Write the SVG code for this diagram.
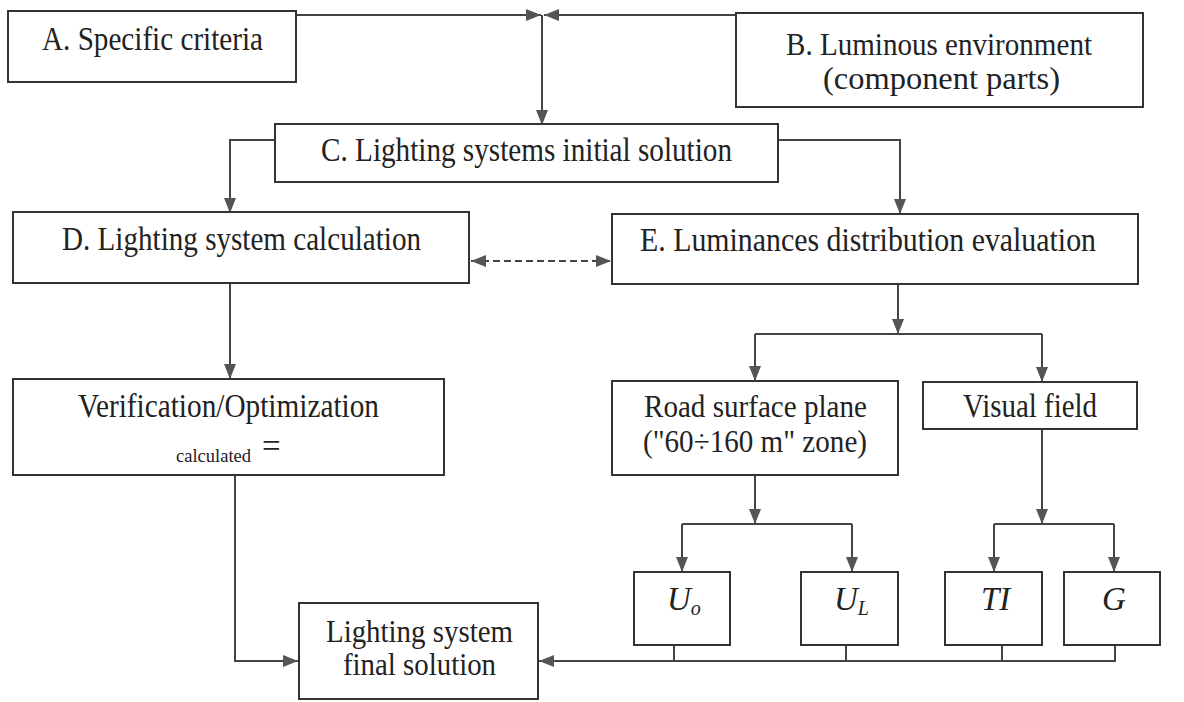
<svg xmlns="http://www.w3.org/2000/svg" width="1184" height="702" viewBox="0 0 1184 702">
<defs>
<style>
.box{fill:none;stroke:#333;stroke-width:2}
.ln{fill:none;stroke:#444;stroke-width:2}
.t{font-family:"Liberation Serif","Times New Roman",serif;font-size:33px;fill:#222}
.t2{font-family:"Liberation Serif","Times New Roman",serif;font-size:31px;fill:#222}
.i{font-family:"Liberation Serif","Times New Roman",serif;font-size:33px;font-style:italic;fill:#222}
.s{font-family:"Liberation Serif","Times New Roman",serif;font-size:18px;fill:#222}
</style>
<marker id="ah" markerUnits="userSpaceOnUse" markerWidth="15" markerHeight="12" refX="15" refY="6" orient="auto-start-reverse">
<path d="M0,0 L15,6 L0,12 z" fill="#555"/>
</marker>
</defs>
<rect width="1184" height="702" fill="#fff"/>
<g id="connectors">
<polyline class="ln" points="297,15 541,15" marker-end="url(#ah)"/>
<polyline class="ln" points="736,15 544,15" marker-end="url(#ah)"/>
<polyline class="ln" points="542,15 542,125" marker-end="url(#ah)"/>
<polyline class="ln" points="275,140 230,140 230,213" marker-end="url(#ah)"/>
<polyline class="ln" points="778,140 900,140 900,214" marker-end="url(#ah)"/>
<line class="ln" x1="471" y1="261" x2="611" y2="261" stroke-dasharray="7,4" marker-start="url(#ah)" marker-end="url(#ah)"/>
<polyline class="ln" points="230,284 230,379" marker-end="url(#ah)"/>
<polyline class="ln" points="898,284 898,334" marker-end="url(#ah)"/>
<polyline class="ln" points="755,334 1042,334"/>
<polyline class="ln" points="755,334 755,381" marker-end="url(#ah)"/>
<polyline class="ln" points="1042,334 1042,382" marker-end="url(#ah)"/>
<polyline class="ln" points="755,475 755,524" marker-end="url(#ah)"/>
<polyline class="ln" points="682,524 852,524"/>
<polyline class="ln" points="682,524 682,572" marker-end="url(#ah)"/>
<polyline class="ln" points="852,524 852,572" marker-end="url(#ah)"/>
<polyline class="ln" points="1042,429 1042,524" marker-end="url(#ah)"/>
<polyline class="ln" points="994,524 1114,524"/>
<polyline class="ln" points="994,524 994,572" marker-end="url(#ah)"/>
<polyline class="ln" points="1114,524 1114,572" marker-end="url(#ah)"/>
<polyline class="ln" points="235,475 235,661 298,661" marker-end="url(#ah)"/>
<polyline class="ln" points="674,645 674,661"/>
<polyline class="ln" points="846,645 846,661"/>
<polyline class="ln" points="1002,645 1002,661"/>
<polyline class="ln" points="1115,645 1115,661 539,661" marker-end="url(#ah)"/>
</g>
<g id="nodeA">
<rect class="box" x="8" y="11" width="288" height="71"/>
<text class="t" x="42" y="50" textLength="221" lengthAdjust="spacingAndGlyphs">A. Specific criteria</text>
</g>
<g id="nodeB">
<rect class="box" x="736" y="13" width="407" height="94"/>
<text class="t2" x="786" y="55" font-size="30" textLength="306" lengthAdjust="spacingAndGlyphs">B. Luminous environment</text>
<text class="t2" x="823" y="89" font-size="30" textLength="237" lengthAdjust="spacingAndGlyphs">(component parts)</text>
</g>
<g id="nodeC">
<rect class="box" x="275" y="124" width="503" height="58"/>
<text class="t" x="321" y="161" textLength="411" lengthAdjust="spacingAndGlyphs">C. Lighting systems initial solution</text>
</g>
<g id="nodeD">
<rect class="box" x="13" y="212" width="456" height="71"/>
<text class="t" x="62" y="250" textLength="359" lengthAdjust="spacingAndGlyphs">D. Lighting system calculation</text>
</g>
<g id="nodeE">
<rect class="box" x="612" y="214" width="526" height="70"/>
<text class="t" x="640" y="251" textLength="456" lengthAdjust="spacingAndGlyphs">E. Luminances distribution evaluation</text>
</g>
<g id="nodeVerification">
<rect class="box" x="13" y="379" width="431" height="96"/>
<text class="t" x="78" y="417" textLength="301" lengthAdjust="spacingAndGlyphs">Verification/Optimization</text>
<text class="s" x="176" y="462" textLength="75" lengthAdjust="spacingAndGlyphs">calculated</text>
<text class="t" x="262" y="457" font-size="26">=</text>
</g>
<g id="nodeRoad">
<rect class="box" x="612" y="381" width="286" height="94"/>
<text class="t2" x="644" y="417" textLength="223" lengthAdjust="spacingAndGlyphs">Road surface plane</text>
<text class="t2" x="643" y="452" textLength="224" lengthAdjust="spacingAndGlyphs">("60÷160 m" zone)</text>
</g>
<g id="nodeVisual">
<rect class="box" x="923" y="382" width="214" height="47"/>
<text class="t" x="963" y="417" textLength="134" lengthAdjust="spacingAndGlyphs">Visual field</text>
</g>
<g id="nodeUo">
<rect class="box" x="634" y="572" width="96" height="73"/>
<text class="i" x="667" y="610">U<tspan font-size="20" dy="5">o</tspan></text>
</g>
<g id="nodeUL">
<rect class="box" x="801" y="572" width="97" height="73"/>
<text class="i" x="834" y="610">U<tspan font-size="20" dy="5">L</tspan></text>
</g>
<g id="nodeTI">
<rect class="box" x="945" y="572" width="97" height="73"/>
<text class="i" x="981" y="610">TI</text>
</g>
<g id="nodeG">
<rect class="box" x="1064" y="572" width="96" height="73"/>
<text class="i" x="1102" y="610">G</text>
</g>
<g id="nodeFinal">
<rect class="box" x="299" y="603" width="239" height="96"/>
<text class="t2" x="326" y="642" textLength="187" lengthAdjust="spacingAndGlyphs">Lighting system</text>
<text class="t2" x="343" y="675" textLength="153" lengthAdjust="spacingAndGlyphs">final solution</text>
</g>
</svg>
